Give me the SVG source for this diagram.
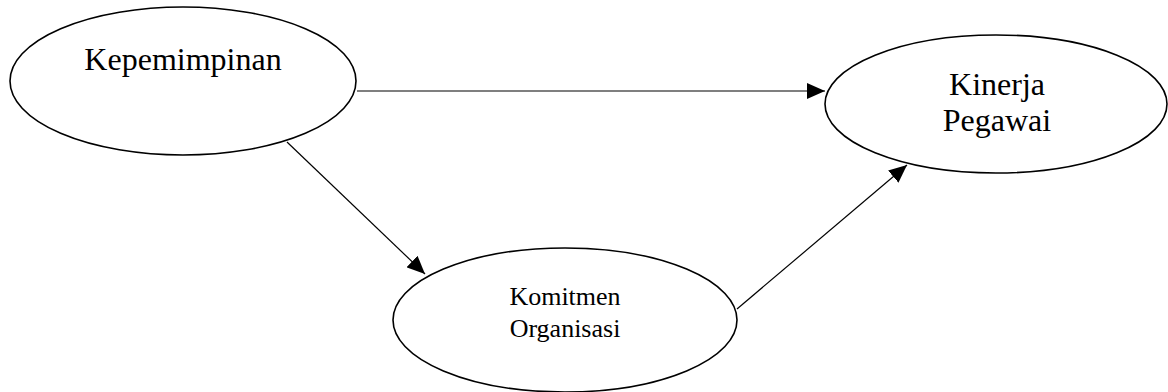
<svg xmlns="http://www.w3.org/2000/svg" width="1168" height="392" viewBox="0 0 1168 392">
<style>
.node{fill:#fff;stroke:#000;stroke-width:1.6}
.lbl{font-family:"Liberation Serif","Times New Roman",serif;fill:#000;text-anchor:middle}
.big{font-size:32px}
.small{font-size:26px}
.edge{stroke:#000;stroke-width:1.2;fill:none;marker-end:url(#arr)}
</style>
<defs>
<marker id="arr" viewBox="0 0 18 16" refX="18" refY="8" markerWidth="18" markerHeight="16" markerUnits="userSpaceOnUse" orient="auto">
<path d="M0,0 L18,8 L0,16 Z" fill="#000"/>
</marker>
</defs>
<rect width="1168" height="392" fill="#fff"/>
<g id="connectors">
<line class="edge" x1="357" y1="91" x2="825" y2="91"/>
<line class="edge" x1="287" y1="142" x2="425" y2="274"/>
<line class="edge" x1="737" y1="309" x2="907" y2="165"/>
</g>
<g id="kepemimpinan">
<ellipse class="node" cx="183" cy="81" rx="173" ry="74"/>
<text class="lbl big" x="183" y="70">Kepemimpinan</text>
</g>
<g id="kinerja">
<ellipse class="node" cx="996" cy="104" rx="171" ry="69"/>
<text class="lbl big" x="997" y="95">Kinerja</text>
<text class="lbl big" x="997" y="131">Pegawai</text>
</g>
<g id="komitmen">
<ellipse class="node" cx="565" cy="320" rx="172" ry="72"/>
<text class="lbl small" x="565" y="305">Komitmen</text>
<text class="lbl small" x="565" y="337">Organisasi</text>
</g>
</svg>
